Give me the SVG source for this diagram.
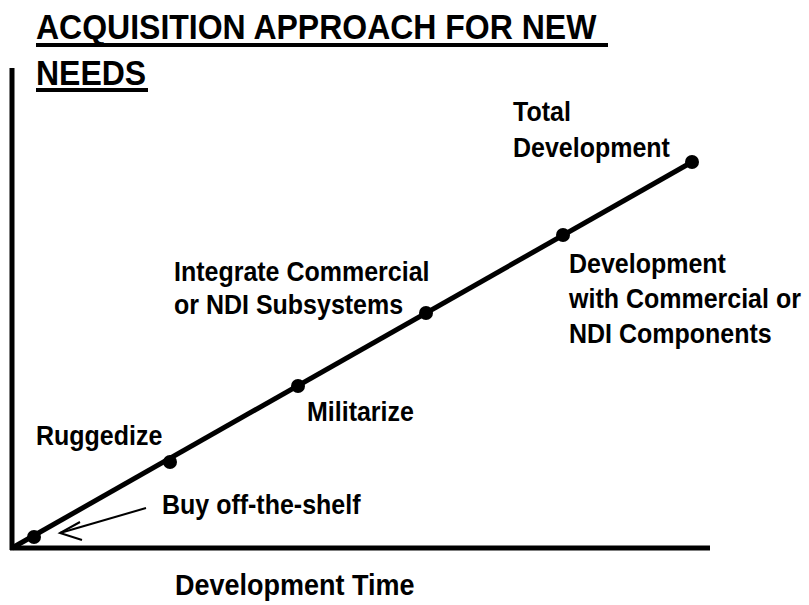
<svg xmlns="http://www.w3.org/2000/svg" width="809" height="605" viewBox="0 0 809 605">
<style>
text{font-family:"Liberation Sans",Arial,sans-serif;font-weight:bold;fill:#000}
.t{font-size:32px}
.l{font-size:25px}
.ax{stroke:#000;stroke-width:5;fill:none}
.ln{stroke:#000;stroke-width:5;fill:none}
.dot{fill:#000}
</style>
<rect width="809" height="605" fill="#fff"/>
<g id="title">
<text class="t" x="36" y="39" transform="matrix(1 0 0 1.1 0 -3.9)">ACQUISITION APPROACH FOR NEW </text>
<line x1="36" y1="45" x2="608" y2="45" stroke="#000" stroke-width="4"/>
<text class="t" x="36" y="85" transform="matrix(1 0 0 1.1 0 -8.5)">NEEDS</text>
<line x1="36" y1="90" x2="148" y2="90" stroke="#000" stroke-width="4"/>
</g>
<g id="axes">
<line class="ax" x1="12" y1="68" x2="12" y2="550"/>
<line class="ax" x1="10" y1="548" x2="710" y2="548"/>
</g>
<g id="connectors">
<line class="ln" x1="12" y1="548" x2="692" y2="162"/>
<line x1="146" y1="508" x2="60" y2="533" stroke="#000" stroke-width="2"/>
<polyline points="80,522 60,533 82,540" stroke="#000" stroke-width="2" fill="none"/>
</g>
<g id="n-buy"><circle class="dot" cx="34" cy="537" r="7"/><text class="l" x="162" y="514" transform="matrix(1 0 0 1.1 0 -51.4)">Buy off-the-shelf</text></g>
<g id="n-rugged"><circle class="dot" cx="170" cy="462" r="7"/><text class="l" x="36" y="445" transform="matrix(1 0 0 1.1 0 -44.5)">Ruggedize</text></g>
<g id="n-mil"><circle class="dot" cx="298" cy="386" r="7"/><text class="l" x="307" y="421" transform="matrix(1 0 0 1.1 0 -42.1)">Militarize</text></g>
<g id="n-integrate"><circle class="dot" cx="426" cy="313" r="7"/><text class="l" x="174" y="281" transform="matrix(1 0 0 1.1 0 -28.1)">Integrate Commercial</text><text class="l" x="174" y="314" transform="matrix(1 0 0 1.1 0 -31.4)">or NDI Subsystems</text></g>
<g id="n-devcomp"><circle class="dot" cx="563" cy="235" r="7"/><text class="l" x="569" y="273" transform="matrix(1 0 0 1.1 0 -27.3)">Development</text><text class="l" x="569" y="308" transform="matrix(1 0 0 1.1 0 -30.8)">with Commercial or</text><text class="l" x="569" y="343" transform="matrix(1 0 0 1.1 0 -34.3)">NDI Components</text></g>
<g id="n-total"><circle class="dot" cx="692" cy="162" r="7"/><text class="l" x="513" y="121" transform="matrix(1 0 0 1.1 0 -12.1)">Total</text><text class="l" x="513" y="157" transform="matrix(1 0 0 1.1 0 -15.7)">Development</text></g>
<g id="xlabel"><text x="175" y="595" style="font-size:27px" transform="matrix(1 0 0 1.1 0 -59.5)">Development Time</text></g>
</svg>
